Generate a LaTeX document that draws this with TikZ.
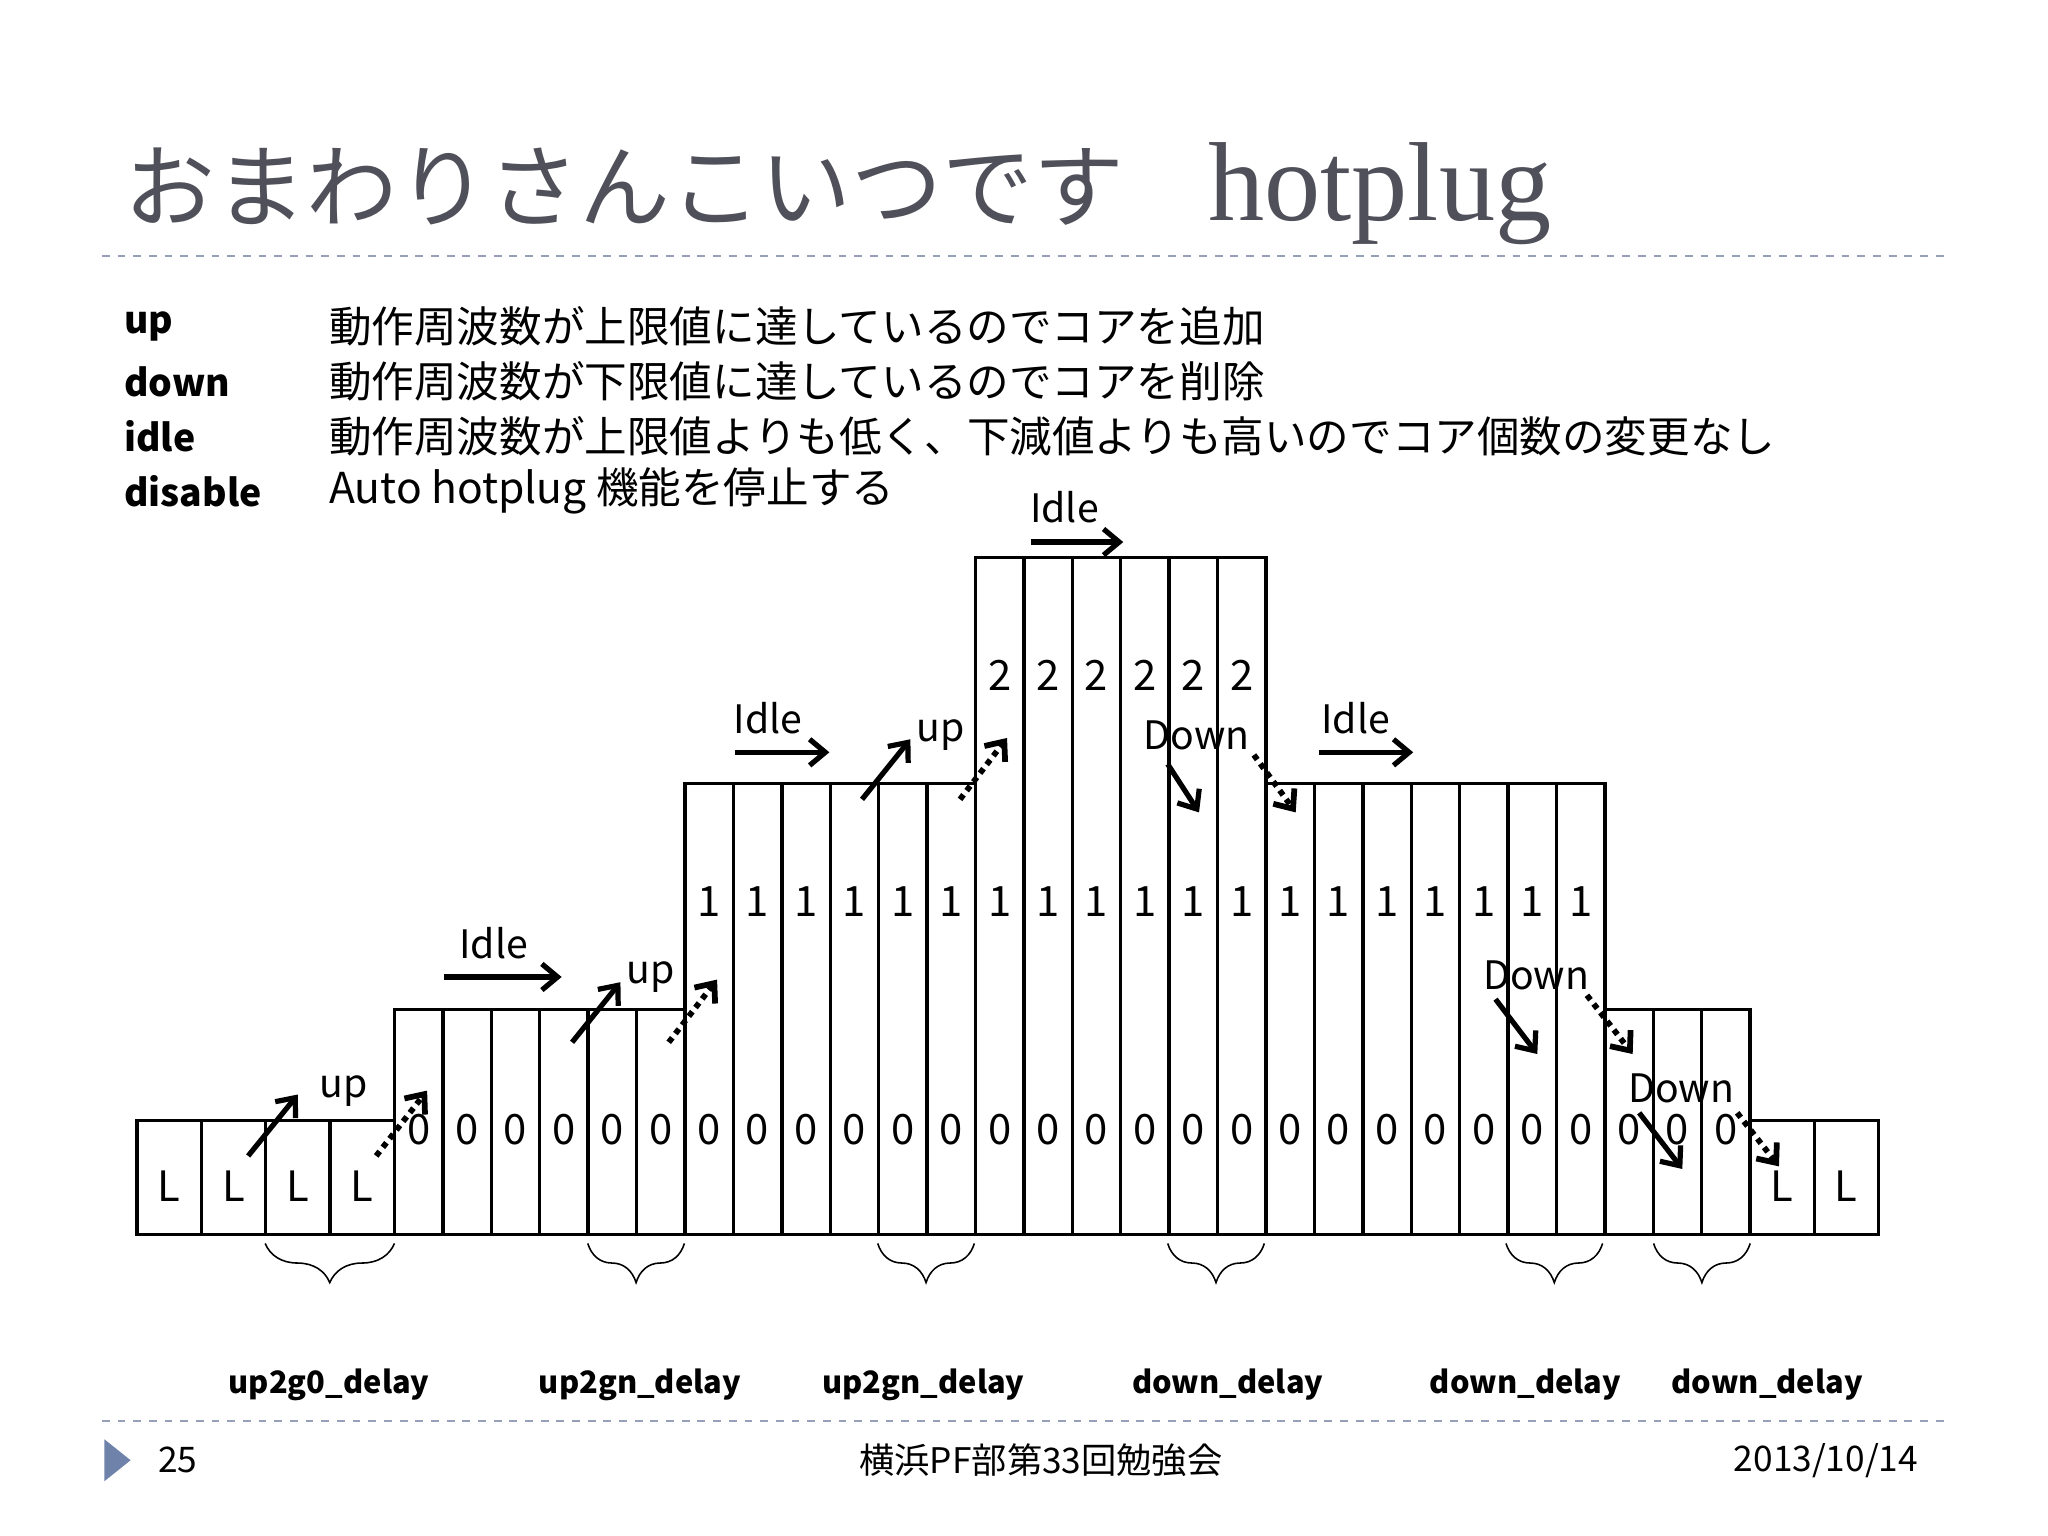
\documentclass[tikz,border=0pt]{standalone}
\usepackage{fontspec}
\setmainfont{Noto Sans CJK JP}
\newfontfamily\titlefont{Noto Sans CJK JP}
\newfontfamily\latinserif{Liberation Serif}
\usetikzlibrary{arrows.meta,decorations.pathreplacing}
\definecolor{titlegrey}{RGB}{80,80,90}
\definecolor{dashc}{RGB}{150,160,185}
\definecolor{tri}{RGB}{110,130,170}
\tikzset{
  cell/.style={draw=black,line width=1.3pt},
  num/.style={font=\fontsize{16}{18}\selectfont,anchor=center},
  sarr/.style={line width=2pt,-{Straight Barb[length=6pt,width=10pt]}},
  darr/.style={line width=2.2pt,dotted,-{Straight Barb[length=6pt,width=10pt]}},
  lab/.style={font=\fontsize{15}{17}\selectfont,anchor=center},
  deflab/.style={font=\fontsize{14.3}{17}\selectfont\bfseries,anchor=west},
  botlab/.style={font=\fontsize{11.8}{14}\selectfont\bfseries,anchor=center},
  deftxt/.style={font=\fontsize{16.3}{18}\selectfont,anchor=west},
  brc/.style={decorate,decoration={brace,mirror,amplitude=15pt,aspect=0.5},line width=0.6pt},
  foot/.style={font=\fontsize{13.5}{16}\selectfont,anchor=center}
}
\begin{document}
\begin{tikzpicture}[x=0.5pt,y=-0.5pt]
\useasboundingbox (0,0) rectangle (1568,1176);
\fill[white] (0,0) rectangle (1568,1176);
% title
\node[anchor=west,text=titlegrey,inner sep=0] (title) at (95,148) {\titlefont\fontsize{34.8}{38}\selectfont おまわりさんこいつです\hspace{32pt}{\latinserif\fontsize{43}{44}\selectfont hotplug}};
\draw[dashc,dashed,line width=0.7pt] (78,196) -- (1490,196);
% definitions
\node[deflab] (l1) at (88,250) {up};
\node[deflab] (l2) at (88,292) {down};
\node[deflab] (l3) at (88,334) {idle};
\node[deflab] (l4) at (88,376) {disable};
\node[deftxt] (t1) at (245,250) {動作周波数が上限値に達しているのでコアを追加};
\node[deftxt] (t2) at (245,292) {動作周波数が下限値に達しているのでコアを削除};
\node[deftxt] (t3) at (245,334) {動作周波数が上限値よりも低く、下減値よりも高いのでコア個数の変更なし};
\node[deftxt] (t4) at (245,376) {Auto hotplug 機能を停止する};
% L cells
\foreach \i in {0,...,3}{
  \pgfmathsetmacro\xa{105+\i*49.25}\pgfmathsetmacro\xb{\xa+49.25}
  \draw[cell] (\xa,858) rectangle (\xb,945);
  \node[num] at ({(\xa+\xb)/2},908) {L};
}
\foreach \i in {0,1}{
  \pgfmathsetmacro\xa{1340+\i*49}\pgfmathsetmacro\xb{\xa+49}
  \draw[cell] (\xa,858) rectangle (\xb,945);
  \node[num] at ({(\xa+\xb)/2},908) {L};
}
% columns
\foreach \i in {0,...,27}{
  \pgfmathsetmacro\xa{302+\i*37.07}\pgfmathsetmacro\xb{\xa+37.07}
  \pgfmathsetmacro\xc{\xa+18.5}
  \pgfmathsetmacro\top{(\i>=6 && \i<=24) ? ((\i>=12 && \i<=17) ? 427 : 600) : 773}
  \draw[cell] (\xa,\top) rectangle (\xb,945);
  \node[num] at (\xc,865) {0};
  \ifnum\i>5 \ifnum\i<25 \node[num] at (\xc,690) {1}; \fi\fi
  \ifnum\i>11 \ifnum\i<18 \node[num] at (\xc,517) {2}; \fi\fi
}
% arrows
\node[lab] (u1) at (263,835) {up};
\draw[sarr] (190,885) -- (228,838);
\draw[darr] (288,885) -- (327,835);
\node[lab] (i1) at (378,722) {Idle};
\draw[sarr] (340,748) -- (430,748);
\node[lab] (u2) at (498,748) {up};
\draw[sarr] (438,798) -- (475,752);
\draw[darr] (512,798) -- (549,750);
\node[lab] (i2) at (588,550) {Idle};
\draw[sarr] (563,576) -- (635,576);
\node[lab] (u3) at (720,563) {up};
\draw[sarr] (660,612) -- (697,566);
\draw[darr] (735,612) -- (771,565);
\node[lab] (i3) at (815,388) {Idle};
\draw[sarr] (789,415) -- (860,415);
\node[lab] (d1) at (916,563) {Down};
\draw[sarr] (894,585) -- (918,622);
\draw[darr] (960,578) -- (992,622);
\node[lab] (i4) at (1038,550) {Idle};
\draw[sarr] (1010,576) -- (1082,576);
\node[lab] (d2) at (1176,747) {Down};
\draw[sarr] (1145,765) -- (1177,807);
\draw[darr] (1215,762) -- (1250,807);
\node[lab] (d3) at (1287,833) {Down};
\draw[sarr] (1255,852) -- (1288,895);
\draw[darr] (1330,852) -- (1362,893);
% braces
\foreach \a/\b in {203/302,450/524,672/746,894/968,1153/1227,1266/1340}
  \draw[brc] (\a,952) -- (\b,952);
\node[botlab] (b1) at (252,1060) {up2g0\_delay};
\node[botlab] (b2) at (490,1060) {up2gn\_delay};
\node[botlab] (b3) at (707,1060) {up2gn\_delay};
\node[botlab] (b4) at (940,1060) {down\_delay};
\node[botlab] (b5) at (1168,1060) {down\_delay};
\node[botlab] (b6) at (1353,1060) {down\_delay};
% footer
\draw[dashc,dashed,line width=0.7pt] (78,1088) -- (1490,1088);
\fill[tri] (80,1102) -- (100,1118) -- (80,1134) -- cycle;
\node[foot] (pg) at (136,1118) {25};
\node[foot] (ev) at (797,1118) {横浜PF部第33回勉強会};
\node[foot] (dt) at (1398,1118) {2013/10/14};
\end{tikzpicture}
\end{document}
